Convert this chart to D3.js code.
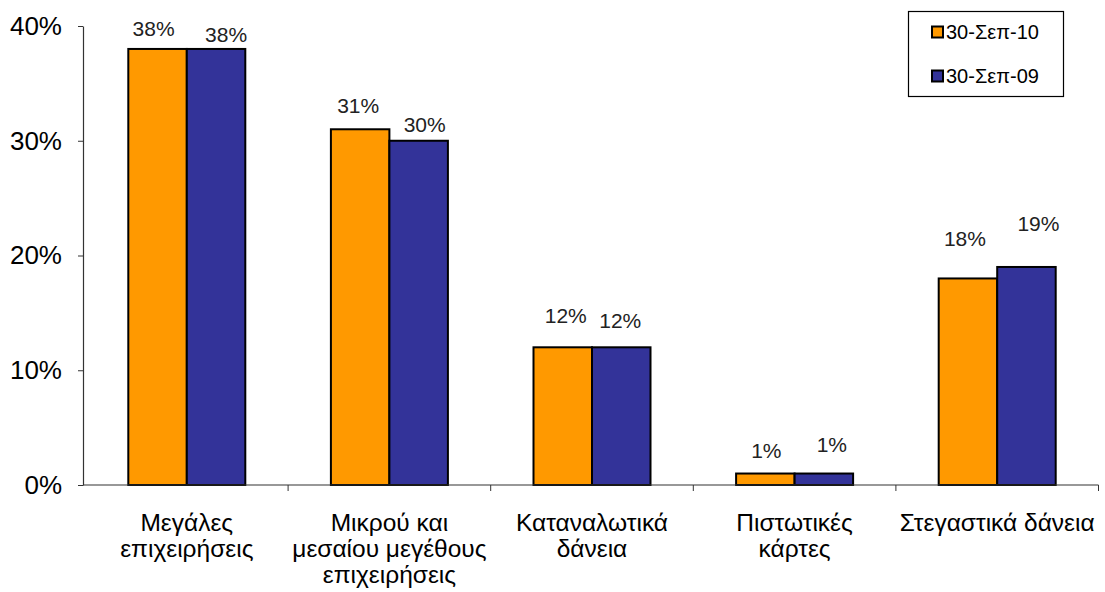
<!DOCTYPE html>
<html><head><meta charset="utf-8">
<script src="https://cdn.jsdelivr.net/npm/d3@7"></script>
<style>
body{margin:0;background:#fff;}
svg{display:block;font-family:"Liberation Sans",Arial,sans-serif;}
</style></head>
<body>
<svg id="chart" width="1105" height="592"></svg>
<script>
const categories = [
  ["Μεγάλες", "επιχειρήσεις"],
  ["Μικρού και", "μεσαίου μεγέθους", "επιχειρήσεις"],
  ["Καταναλωτικά", "δάνεια"],
  ["Πιστωτικές", "κάρτες"],
  ["Στεγαστικά δάνεια"]
];
const seriesNames = ["30-Σεπ-10", "30-Σεπ-09"];
const sep10 = [38, 31, 12, 1, 18];
const sep09 = [38, 30, 12, 1, 19];
const yTicks = [0, 10, 20, 30, 40];

// label nudges (layout only): [dx, dy] from bar centre / bar top
const labelNudge = [
  [[-4,-20],[10,-14]],
  [[-2,-24],[6,-16]],
  [[3,-32],[-1,-27]],
  [[1,-23],[8,-29]],
  [[-3,-40],[12,-43]]
];
const colors = ["#FF9900", "#333399"];

const svg = d3.select("#chart");
const H = 485, AX = 83;

const x = d3.scaleBand().domain(d3.range(categories.length)).range([85.5, 1098.5]).paddingInner(0).paddingOuter(0);
const groupW = 117;
const x1 = d3.scaleBand().domain([0,1]).range([0, groupW]);
const y = d3.scaleLinear().domain([0, 40]).range([H, 26]);

const data = categories.map((c,i)=>({i, vals:[sep10[i], sep09[i]]}));

// y axis
const yAxis = d3.axisLeft(y).tickValues(yTicks).tickFormat(d=>d+"%").tickSize(5).tickSizeOuter(0);
const gy = svg.append("g").attr("transform",`translate(${AX},0)`).call(yAxis);
gy.select(".domain").attr("stroke","#333").attr("stroke-width",1.2);
gy.selectAll(".tick line").attr("stroke","#333");
gy.selectAll(".tick text").attr("font-size",26).attr("fill","#000").attr("x",-21).attr("font-family","Liberation Sans, Arial, sans-serif");

// bars
const groups = svg.append("g").selectAll("g").data(data).join("g")
  .attr("transform", d=>`translate(${x(d.i)+(x.bandwidth()-groupW)/2},0)`);
groups.selectAll("rect").data(d=>d.vals.map((v,s)=>({v,s,i:d.i}))).join("rect")
  .attr("x", d=>x1(d.s)).attr("width", x1.bandwidth())
  .attr("y", d=>y(d.v)).attr("height", d=>H - y(d.v))
  .attr("fill", d=>colors[d.s]).attr("stroke","#000").attr("stroke-width",2);
groups.selectAll("text").data(d=>d.vals.map((v,s)=>({v,s,i:d.i}))).join("text")
  .attr("x", d=>x1(d.s)+x1.bandwidth()/2 + labelNudge[d.i][d.s][0])
  .attr("y", d=>y(d.v) + labelNudge[d.i][d.s][1])
  .attr("dy","0.35em").attr("text-anchor","middle")
  .attr("font-size",21).attr("fill","#222").text(d=>d.v+"%");

// x axis
const xAxisG = svg.append("g").attr("transform",`translate(0,${H})`);
xAxisG.append("line").attr("x1",AX).attr("x2",1098.5).attr("y1",0).attr("y2",0).attr("stroke","#333").attr("stroke-width",1.2);
const bounds = d3.range(1, categories.length+1).map(i=> x(i-1)+x.bandwidth());
xAxisG.selectAll("line.tk").data(bounds).join("line").attr("class","tk")
  .attr("x1",d=>d).attr("x2",d=>d).attr("y1",0).attr("y2",6).attr("stroke","#333");
const cl = xAxisG.selectAll("text.cat").data(categories).join("text").attr("class","cat")
  .attr("text-anchor","middle").attr("font-size",24.5).attr("fill","#000")
  .attr("transform",(d,i)=>`translate(${x(i)+x.bandwidth()/2},0)`);
cl.selectAll("tspan").data(d=>d).join("tspan").attr("x",0).attr("y",(d,j)=>46+j*26).text(d=>d);

// legend
const lg = svg.append("g");
lg.append("rect").attr("x",908.5).attr("y",11.5).attr("width",155).attr("height",85).attr("fill","#fff").attr("stroke","#000").attr("stroke-width",1.2);
seriesNames.forEach((n,k)=>{
  const cy = 32 + k*44;
  lg.append("rect").attr("x",932).attr("y",cy-5.5).attr("width",11).attr("height",11).attr("fill",colors[k]).attr("stroke","#000").attr("stroke-width",2);
  lg.append("text").attr("x",946).attr("y",cy).attr("dy","0.35em").attr("font-size",20).attr("fill","#000").text(n);
});
</script>
</body></html>
